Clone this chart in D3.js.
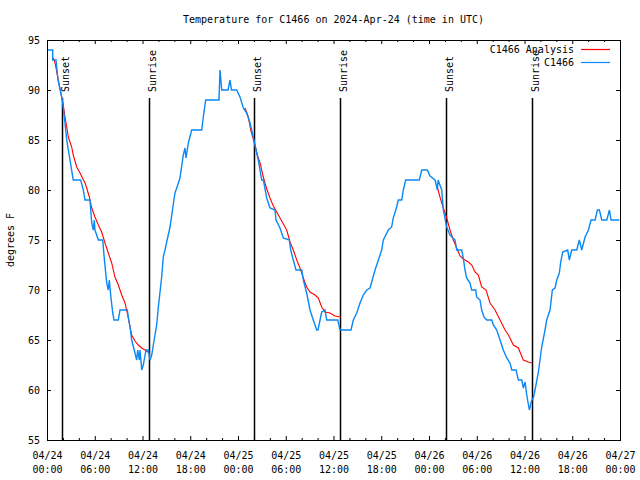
<!DOCTYPE html>
<html><head><meta charset="utf-8">
<script src="https://cdn.jsdelivr.net/npm/d3@7"></script>
<style>body{margin:0;background:#fff}svg{display:block}text{font-family:"DejaVu Sans Mono",monospace;font-size:10px;fill:#000}</style>
</head><body><svg id="c" width="640" height="480"></svg>
<script>
// hours since 2024-04-24 00:00 UTC
const obsHours = [0,0.72,0.72,1.13,1.38,1.92,2.26,2.48,2.89,3.30,4.23,4.56,4.78,5.40,5.62,5.82,5.94,6.03,6.45,7.00,7.16,7.50,7.70,7.83,8.00,8.26,8.42,8.96,9.17,10.09,10.22,10.43,10.64,11.06,11.27,11.40,11.60,11.69,11.90,12.10,12.44,12.73,12.94,13.16,13.36,13.78,13.99,14.41,14.61,14.83,15.04,15.46,15.87,16.08,16.30,16.71,17.13,17.34,17.47,17.76,18.18,19.44,19.64,19.94,21.61,21.74,21.95,22.75,23.00,23.18,23.84,24.25,24.67,25.09,25.51,25.92,26.35,26.55,26.98,27.19,27.61,28.02,28.65,28.78,29.28,29.69,30.45,30.62,30.95,31.29,32.01,32.21,32.63,33.05,33.46,33.89,34.05,34.52,34.93,35.15,36.53,36.82,38.20,38.49,38.92,39.33,39.75,40.17,40.59,41.22,42.06,42.26,42.89,43.31,43.51,43.94,44.14,44.57,44.77,45.07,46.78,47.09,47.79,48.13,48.76,49.05,49.14,49.60,49.80,50.22,50.64,51.27,51.48,52.11,52.31,52.52,52.73,53.15,53.36,53.87,53.99,54.41,54.62,54.91,55.25,55.88,56.09,56.51,56.93,57.34,57.77,58.18,58.40,58.94,59.23,59.66,59.86,60.07,60.28,60.61,60.91,61.11,61.32,61.73,62.16,62.58,62.79,63.21,63.50,63.84,64.05,64.38,64.55,64.80,65.43,65.63,65.93,66.56,66.89,67.19,67.61,68.03,68.36,68.87,69.16,69.41,69.71,70.34,70.67,70.88,71.92];
const obsTemps = [94,94,93,93,91,89,86.7,85,83,81,81,80,79,79,76.7,76,77,76,75,75,73.5,70.7,70,71,69.5,67.7,67,67,68,68,67.3,66.3,65,63.7,63,64,63,64,62,62.5,64,64,63,63.5,64.5,66.5,68.3,71.3,73.3,74,74.8,76.3,78.6,79.7,80.2,81.2,83.5,84.2,83.2,84.7,86,86,87.3,89,89,92,90,90,91,90,90,89.3,88.2,87.7,86.7,85.3,83.7,83,81,81,79.2,78.2,78,77,76.2,75.2,75,74,73,72,72,71,69.7,68,67,66,66,67.8,68,67,67,66,66,67,67.7,68.7,69.5,70,70.2,72,74,75,76,76.3,77.2,78.3,79,79,80,81,81,82,82,81.4,81,80,81,80,78,76.3,75.5,75,74,74,73.2,72,71.2,70.7,70,70,69.3,69,68,67.3,67,67,66.5,66,65,64,63.2,62.7,62,62,61,61,60.2,60.8,59.5,58,59,59.2,60,61.7,64.3,66,67,68,70,70.2,71,71.7,72.8,73.8,74,73,74,74,75,74,75.3,76,77,77,78,78,77,77,78,77,77];
const anaHours = [
 [0.79,1.01,1.42,1.85,2.05,2.26,2.48,2.68,3.10,3.30,3.73,4.15,4.78,4.99,5.32,5.62,6.03,6.45,6.87,7.29,7.70,8.13,8.54,8.96,9.39,9.80,10.09,10.34,10.64,11.06,11.47,11.90,12.31,12.86],
 [24.88,25.30,25.60,25.85,26.14,26.43,26.77,27.18,27.61,28.02,28.44,28.86,29.49,30.12,30.54,30.95,31.38,31.79,32.21,32.63,33.05,33.68,34.09,34.52,34.93,35.56,36.19,36.94],
 [48.97,49.38,49.80,50.23,50.64,51.06,51.48,51.90,52.31,52.94,53.37,53.78,54.20,54.62,55.17,55.67,56.30,56.93,57.56,57.98,58.60,59.23,59.85,60.48,60.91]];
const anaTemps = [
 [93.2,92.7,91,89.3,88.5,87.3,86.3,85.3,84.3,83.5,82.3,81.7,80.7,80.2,79.3,78.2,77.3,76.5,75.8,74.7,73.7,72.7,71.3,70.5,69.5,68.7,67.7,66.7,65.5,64.9,64.5,64.2,64,63.7],
 [88.2,87.3,86,85.3,84.5,83.5,82.7,81.3,80.1,79.2,78.4,77.8,76.9,76,74.8,74,73,72.2,71.2,70.3,69.8,69.5,69.2,68.3,67.8,67.7,67.4,67.3],
 [80.5,79.3,78.2,77.2,76,75,74.2,73.4,73.1,72.8,72.5,71.8,71.5,70.3,70,68.7,68,67,66,65.5,64.5,64.2,63,62.8,62.7]];
const sunHours = [1.93,12.8,26.0,36.86,50.12,60.97];
const sunLabels = ["Sunset","Sunrise","Sunset","Sunrise","Sunset","Sunrise"];
const yTicks = [55,60,65,70,75,80,85,90,95];
const seriesNames = ["C1466 Analysis","C1466"];
const titleText = "Temperature for C1466 on 2024-Apr-24 (time in UTC)";
const yLabel = "degrees F";

const T0 = Date.UTC(2024,3,24);
const toDate = h => new Date(T0 + h*3600000);
const L=47,R=620,T=40,B=440;
const svg = d3.select("#c");
const x = d3.scaleUtc().domain([toDate(0),toDate(72)]).range([L,R]);
const y = d3.scaleLinear().domain([55,95]).range([B,T]);

// axes
const major = d3.utcHour.every(6).range(toDate(0), toDate(72.01));
const minor = d3.utcHour.every(2).range(toDate(0), toDate(72.01)).filter(d=>d.getUTCHours()%6!==0);
function drawAxis(gen, ty){ const g=svg.append("g").attr("transform",`translate(0,${ty})`).call(gen); g.select(".domain").remove(); g.selectAll("line").attr("stroke","#000"); return g;}
drawAxis(d3.axisBottom(x).tickValues(minor).tickSize(-2).tickFormat(""), B);
drawAxis(d3.axisTop(x).tickValues(minor).tickSize(-2).tickFormat(""), T);
drawAxis(d3.axisTop(x).tickValues(major).tickSize(-4).tickFormat(""), T);
const xb = drawAxis(d3.axisBottom(x).tickValues(major).tickSize(-4).tickFormat(""), B);
xb.selectAll(".tick").each(function(d){
  const g=d3.select(this);
  g.select("text").remove();
  g.append("text").attr("y",18.5).attr("text-anchor","middle").text(d3.utcFormat("%m/%d")(d));
  g.append("text").attr("y",32.5).attr("text-anchor","middle").text(d3.utcFormat("%H:%M")(d));
});
const yl = svg.append("g").attr("transform",`translate(${L},0)`).call(d3.axisLeft(y).tickValues(yTicks).tickSize(-4).tickPadding(7));
yl.select(".domain").remove(); yl.selectAll("line").attr("stroke","#000");
yl.selectAll("text").attr("font-family","DejaVu Sans Mono").attr("font-size",10).attr("fill","#000");
const yr = svg.append("g").attr("transform",`translate(${R},0)`).call(d3.axisRight(y).tickValues(yTicks).tickSize(-4).tickFormat(""));
yr.select(".domain").remove(); yr.selectAll("line").attr("stroke","#000");

// sun lines
sunHours.forEach((h,i)=>{
  const sx = Math.round(x(toDate(h)))+0.5;
  svg.append("line").attr("x1",sx).attr("x2",sx).attr("y1",98).attr("y2",B).attr("stroke","#000").attr("stroke-width",1.5);
  svg.append("text").attr("transform",`translate(${sx+6},92) rotate(-90)`).attr("text-anchor","start").text(sunLabels[i]);
});

// series
const line = d3.line().x(d=>x(toDate(d[0]))).y(d=>y(d[1]));
anaHours.forEach((hs,k)=>{
  svg.append("path").datum(hs.map((h,i)=>[h,anaTemps[k][i]])).attr("d",line).attr("fill","none").attr("stroke","#ff0000").attr("stroke-width",1.1);
});
svg.append("path").datum(obsHours.map((h,i)=>[h,obsTemps[i]])).attr("d",line).attr("fill","none").attr("stroke","#0a88f5").attr("stroke-width",1.4);

// border
svg.append("rect").attr("x",L+0.5).attr("y",T+0.5).attr("width",R-L).attr("height",B-T).attr("fill","none").attr("stroke","#000");

// legend
const legColors=["#ff0000","#0a88f5"];
seriesNames.forEach((n,i)=>{
  const ly = 49.5+13*i;
  svg.append("text").attr("x",574).attr("y",ly+3.5).attr("text-anchor","end").text(n);
  svg.append("line").attr("x1",581).attr("x2",610).attr("y1",ly).attr("y2",ly).attr("stroke",legColors[i]).attr("stroke-width",1.2);
});

// titles
svg.append("text").attr("x",(L+R)/2).attr("y",23).attr("text-anchor","middle").text(titleText);
svg.append("text").attr("transform",`translate(14,${(T+B)/2}) rotate(-90)`).attr("text-anchor","middle").text(yLabel);
</script></body></html>
